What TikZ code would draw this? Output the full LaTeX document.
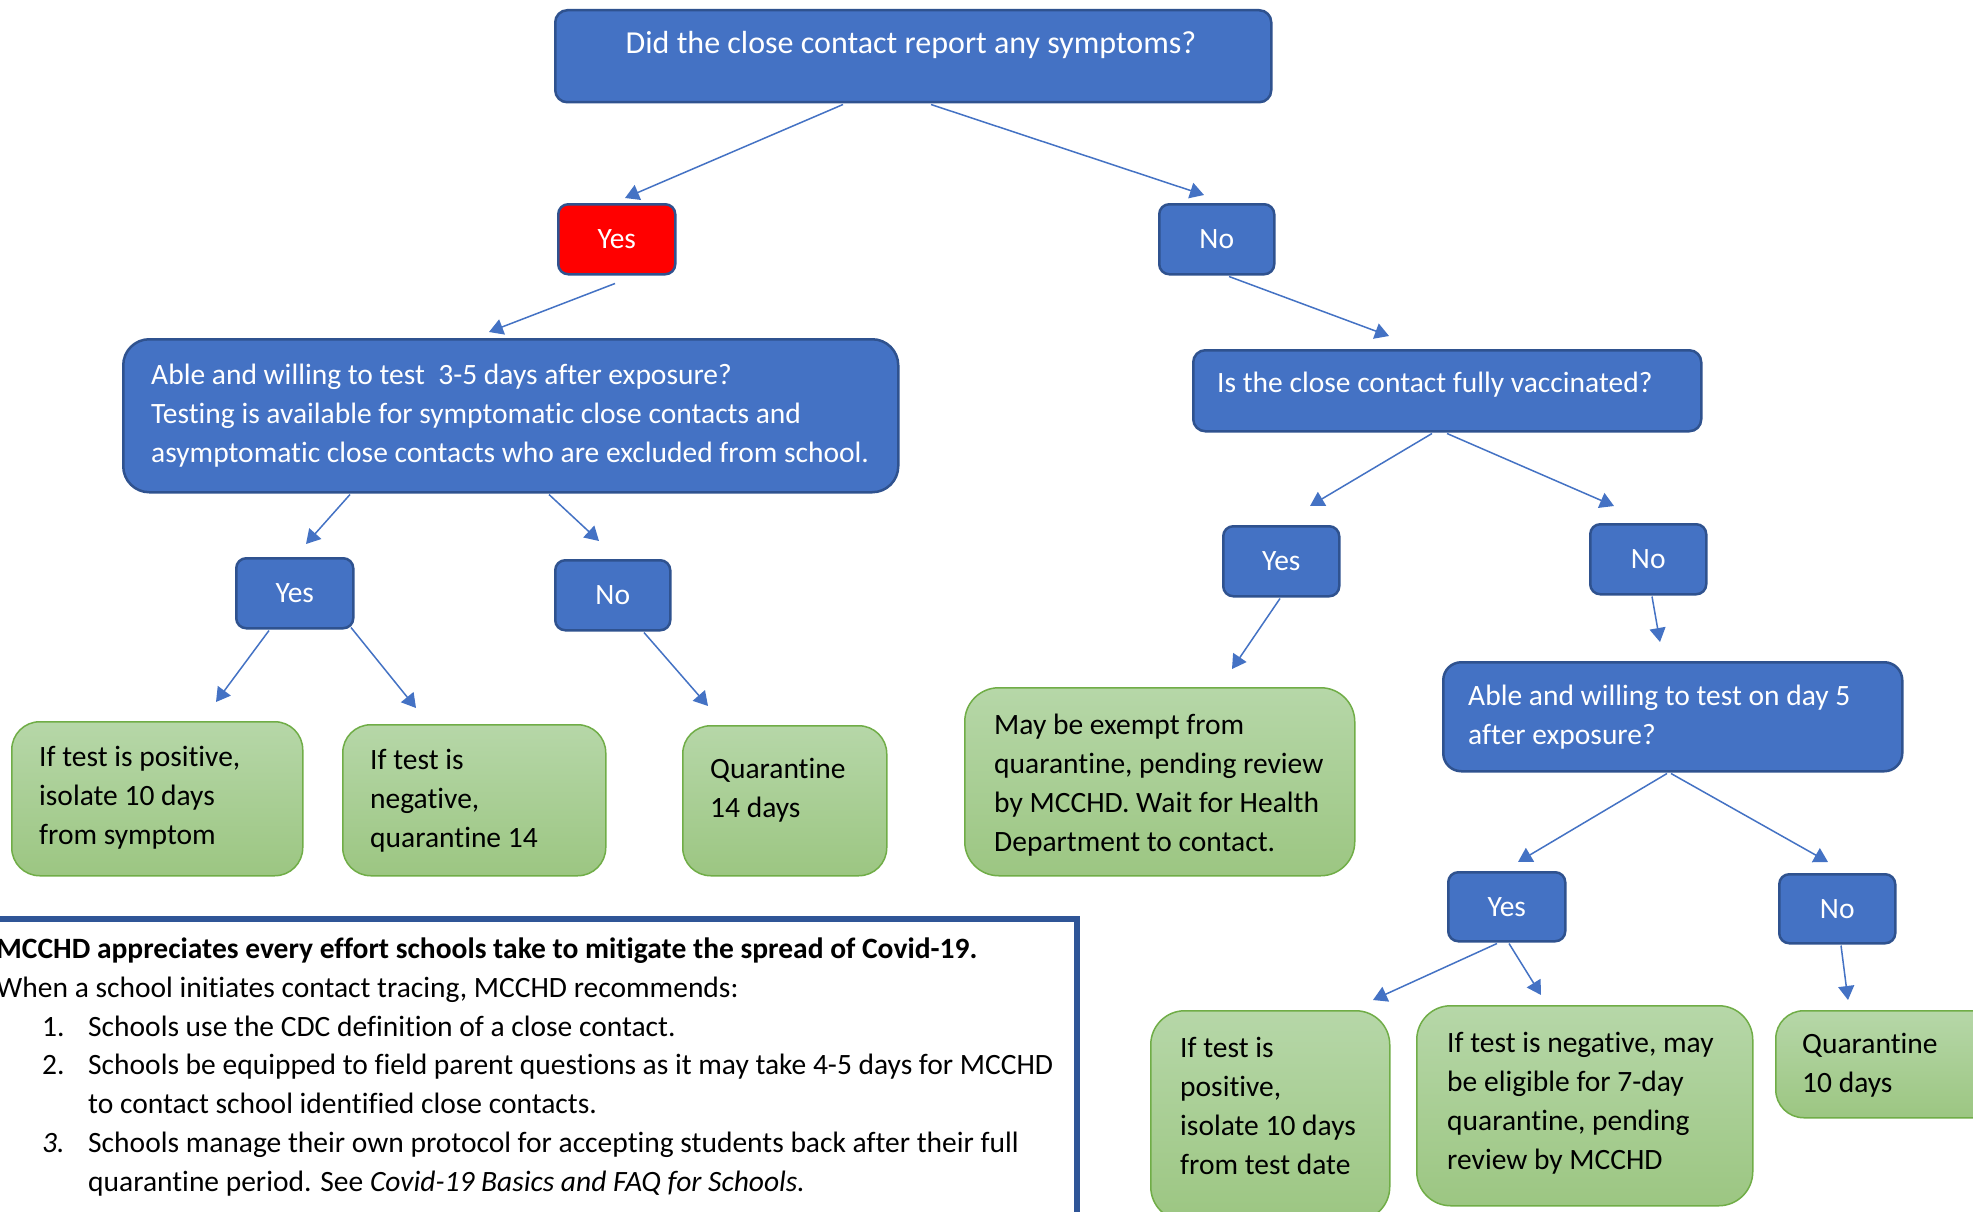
\documentclass[tikz,border=0pt]{standalone}
\usepackage{fontspec}
\setmainfont{Carlito}[Ligatures=NoCommon]
\usetikzlibrary{arrows.meta,calc}
\definecolor{qblue}{HTML}{4472C4}
\definecolor{qborder}{HTML}{2F528F}
\definecolor{qred}{HTML}{FF0000}
\definecolor{gtop}{HTML}{B6D7A8}
\definecolor{gbot}{HTML}{9CC682}
\definecolor{gborder}{HTML}{70AD47}
\definecolor{noteborder}{HTML}{2F5597}
\begin{document}
\begin{tikzpicture}[x=1pt,y=-1pt,
  font=\fontsize{29.5}{38.7}\selectfont,
  bbox/.style={draw=qborder, line width=2.5pt, fill=qblue, rounded corners=#1,
     inner sep=0pt, anchor=north west, text=white},
  rbox/.style={bbox=#1, fill=qred},
  gbox/.style={draw=gborder, line width=1.5pt, top color=gtop, bottom color=gbot,
     rounded corners=#1, inner sep=0pt, anchor=north west},
  wtext/.style={text=white, inner sep=0pt, align=left, anchor=base west},
  ktext/.style={text=black, inner sep=0pt, align=left, anchor=base west},
  arr/.style={draw=qblue, line width=1.5pt, -{Triangle[length=14pt,width=16pt]}}]
\useasboundingbox (0,0) rectangle (1973,1212);
\clip (0,0) rectangle (1973,1212);
\fill[white] (0,0) rectangle (1973,1212);

% blue / red decision boxes (multi-line texts are anchored at the baseline of their last line)
\node[bbox=12pt, minimum width=716pt, minimum height=92pt] (top) at (554,9) {};
\node[text=white, inner sep=0pt, anchor=base, font=\fontsize{32}{38.7}\selectfont] (toptxt) at (911,54) {Did the close contact report any symptoms?};
\node[rbox=10pt, minimum width=117pt, minimum height=70pt] (yes1) at (557,203) {Yes};
\node[bbox=10pt, minimum width=115pt, minimum height=70pt] (no1) at (1158,203) {No};
\node[bbox=26pt, minimum width=775pt, minimum height=153pt] (lq) at (122,338) {};
\node[wtext] (lqtxt) at (151,462) {Able and willing to test \ 3-5 days after exposure?\\Testing is available for symptomatic close contacts and\\asymptomatic close contacts who are excluded from school.};
\node[bbox=12pt, minimum width=508pt, minimum height=81pt] (rq) at (1192,349) {};
\node[wtext] (rqtxt) at (1217,392) {Is the close contact fully vaccinated?};
\node[bbox=10pt, minimum width=117pt, minimum height=70pt] (lyes) at (235,557) {Yes};
\node[bbox=10pt, minimum width=115pt, minimum height=70pt] (lno) at (554,559) {No};
\node[bbox=10pt, minimum width=116pt, minimum height=70pt] (vyes) at (1222,525) {Yes};
\node[bbox=10pt, minimum width=116pt, minimum height=70pt] (vno) at (1589,523) {No};
\node[bbox=18pt, minimum width=459pt, minimum height=109pt] (d5q) at (1442,661) {};
\node[wtext] (d5qtxt) at (1468,744) {Able and willing to test on day 5\\after exposure?};
\node[bbox=10pt, minimum width=117pt, minimum height=69pt] (d5yes) at (1447,871) {Yes};
\node[bbox=10pt, minimum width=116pt, minimum height=69pt] (d5no) at (1778,873) {No};

% green outcome boxes
\node[gbox=28pt, minimum width=291pt, minimum height=154pt] (g1) at (11,721) {};
\node[ktext] (g1txt) at (39,844) {If test is positive,\\isolate 10 days\\from symptom};
\node[gbox=28pt, minimum width=263pt, minimum height=151pt] (g2) at (342,724) {};
\node[ktext] (g2txt) at (370,847) {If test is\\negative,\\quarantine 14};
\node[gbox=28pt, minimum width=204pt, minimum height=150pt] (g3) at (682,725) {};
\node[ktext] (g3txt) at (710,817) {Quarantine\\14 days};
\node[gbox=34pt, minimum width=390pt, minimum height=188pt] (gex) at (964,687) {};
\node[ktext] (gextxt) at (994,851) {May be exempt from\\quarantine, pending review\\by MCCHD. Wait for Health\\Department to contact.};
\node[gbox=34pt, minimum width=239pt, minimum height=210pt] (gpos) at (1150,1010) {};
\node[ktext] (gpostxt) at (1180,1174) {If test is\\positive,\\isolate 10 days\\from test date};
\node[gbox=34pt, minimum width=336pt, minimum height=200pt] (gneg) at (1416,1005) {};
\node[ktext] (gnegtxt) at (1447,1169) {If test is negative, may\\be eligible for 7-day\\quarantine, pending\\review by MCCHD};
\node[gbox=28pt, minimum width=230pt, minimum height=107pt] (gq10) at (1775,1010) {};
\node[ktext] (gq10txt) at (1802,1092) {Quarantine\\10 days};

% note box
\draw[noteborder, line width=6pt] (-40,1260) |- (1077,919) -- (1077,1260);
\node[ktext] (notehead) at (-4,997) {\textbf{MCCHD appreciates every effort schools take to mitigate the spread of Covid-19.}\\When a school initiates contact tracing, MCCHD recommends:};
\node[ktext] (noteitems) at (42,1191) {\makebox[46pt][l]{1.}Schools use the CDC definition of a close contact.\\
\makebox[46pt][l]{2.}Schools be equipped to field parent questions as it may take 4-5 days for MCCHD\\
\makebox[46pt][l]{}to contact school identified close contacts.\\
\makebox[46pt][l]{\textit{3.}}Schools manage their own protocol for accepting students back after their full\\
\makebox[46pt][l]{}quarantine period. See \textit{Covid-19 Basics and FAQ for Schools.}};

% arrow tips
\coordinate (t1) at (625,198);
\coordinate (t2) at (1204,195);
\coordinate (t3) at (489,332);
\coordinate (t4) at (1389,336);
\coordinate (t5) at (306,544);
\coordinate (t6) at (599,541);
\coordinate (t7) at (216,702);
\coordinate (t8) at (416,708);
\coordinate (t9) at (708,706);
\coordinate (t10) at (1310,506);
\coordinate (t11) at (1614,506);
\coordinate (t12) at (1232,669);
\coordinate (t13) at (1660,642);
\coordinate (t14) at (1518,862);
\coordinate (t15) at (1828,862);
\coordinate (t16) at (1373,1000);
\coordinate (t17) at (1541,995);
\coordinate (t18) at (1848,1000);

% connectors
\draw[arr] ([shift={(289,1)}]top.south west) -- (t1);
\draw[arr] ([shift={(377,1)}]top.south west) -- (t2);
\draw[arr] ([shift={(58,8)}]yes1.south west) -- (t3);
\draw[arr] ([shift={(71,1)}]no1.south west) -- (t4);
\draw[arr] ([shift={(228,1)}]lq.south west) -- (t5);
\draw[arr] ([shift={(427,1)}]lq.south west) -- (t6);
\draw[arr] ([shift={(34,1)}]lyes.south west) -- (t7);
\draw[arr] ([shift={(116,-2)}]lyes.south west) -- (t8);
\draw[arr] ([shift={(90,1)}]lno.south west) -- (t9);
\draw[arr] ([shift={(240,1)}]rq.south west) -- (t10);
\draw[arr] ([shift={(255,1)}]rq.south west) -- (t11);
\draw[arr] ([shift={(58,1)}]vyes.south west) -- (t12);
\draw[arr] ([shift={(63,1)}]vno.south west) -- (t13);
\draw[arr] ([shift={(225,1)}]d5q.south west) -- (t14);
\draw[arr] ([shift={(229,1)}]d5q.south west) -- (t15);
\draw[arr] ([shift={(50,1)}]d5yes.south west) -- (t16);
\draw[arr] ([shift={(62,1)}]d5yes.south west) -- (t17);
\draw[arr] ([shift={(63,1)}]d5no.south west) -- (t18);
\end{tikzpicture}
\end{document}
